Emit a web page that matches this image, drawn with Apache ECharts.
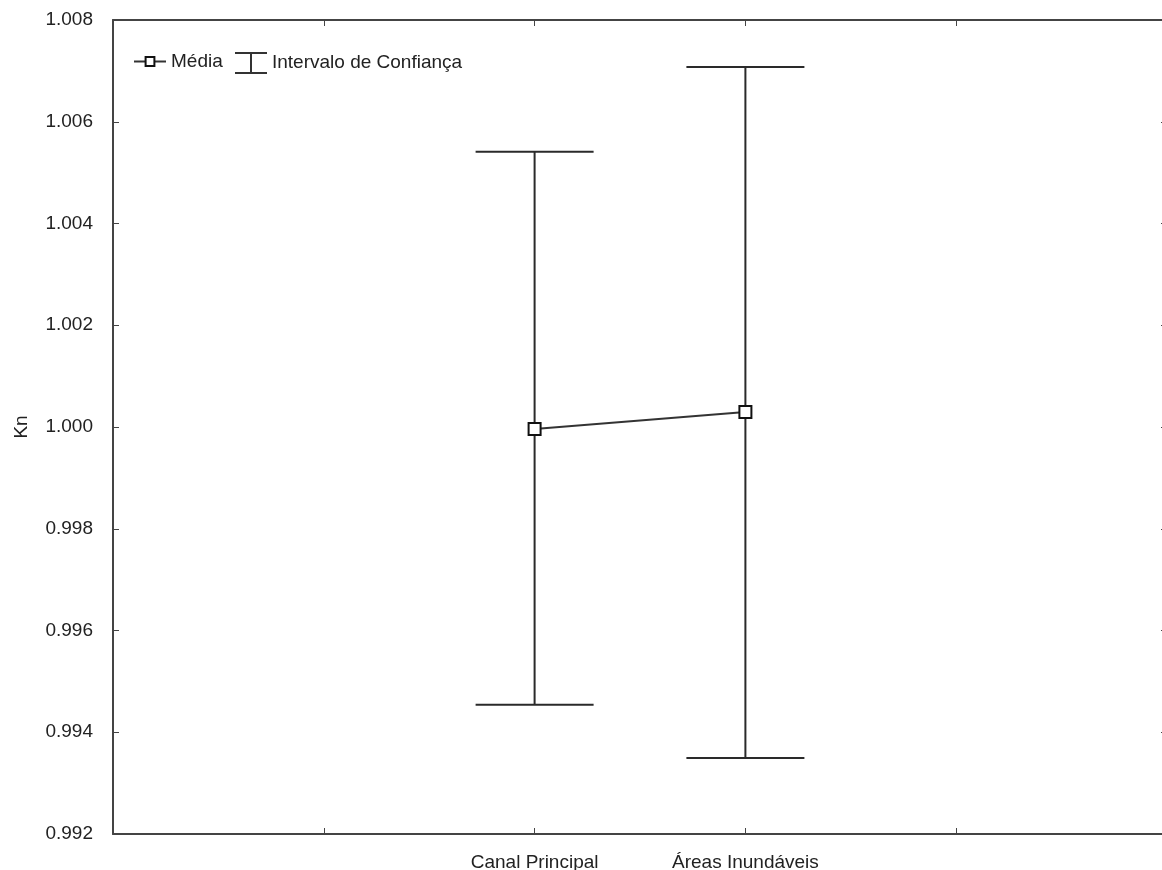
<!DOCTYPE html>
<html>
<head>
<meta charset="utf-8">
<script src="https://cdn.jsdelivr.net/npm/echarts@6/dist/echarts.min.js"></script>
<style>html,body{margin:0;padding:0;background:#fff}#c{width:1162px;height:870px}</style>
</head>
<body>
<div id="c"></div>
<script>
const categories = ['', '', 'Canal Principal', 'Áreas Inundáveis', '', ''];
const meanValues = ['-', '-', 0.99996, 1.000295, '-', '-'];
const lowerValues = [null, null, 0.99454, 0.993494, null, null];
const upperValues = [null, null, 1.00541, 1.007076, null, null];
const yTicks = { min: 0.992, max: 1.008, interval: 0.002 };

const ciData = [];
categories.forEach((c, i) => {
  if (lowerValues[i] != null) ciData.push([i, lowerValues[i], upperValues[i]]);
});

const FONT = 'Liberation Sans';
const FS = 19;
const TXT = '#222';
const AX = '#444';

const chart = echarts.init(document.getElementById('c'), null, { renderer: 'canvas' });
chart.setOption({
  animation: false,
  backgroundColor: '#fff',
  grid: { left: 113, right: -5, top: 20, bottom: 36, containLabel: false, outerBoundsMode: 'none' },
  legend: [{
    left: 128, top: 47, itemGap: 10, itemWidth: 32, itemHeight: 11,
    textStyle: { fontFamily: FONT, fontSize: FS, color: TXT },
    data: [{ name: 'Média' }]
  }, {
    left: 230, top: 47, itemGap: 10, itemWidth: 32, itemHeight: 22,
    textStyle: { fontFamily: FONT, fontSize: FS, color: TXT },
    data: [
      { name: 'Intervalo de Confiança', icon: 'path://M0,0H32V2H17V20H32V22H0V20H15V2H0Z', itemStyle: { color: '#333' } }
    ]
  }],
  xAxis: [{
    type: 'category', data: categories, boundaryGap: false, position: 'bottom',
    axisLine: { lineStyle: { color: AX, width: 2 } },
    axisTick: { inside: true, length: 6, lineStyle: { color: AX, width: 1 } },
    axisLabel: { margin: 19, fontFamily: FONT, fontSize: FS, color: TXT, interval: 0 },
    splitLine: { show: false }
  }, {
    type: 'category', data: categories, boundaryGap: false, position: 'top',
    axisLine: { lineStyle: { color: AX, width: 2 } },
    axisTick: { inside: true, length: 6, lineStyle: { color: AX, width: 1 } },
    axisLabel: { show: false }, splitLine: { show: false }
  }],
  yAxis: [{
    type: 'value', min: yTicks.min, max: yTicks.max, interval: yTicks.interval, position: 'left',
    name: 'Kn', nameLocation: 'middle', nameGap: 82, nameRotate: 90,
    nameTextStyle: { fontFamily: FONT, fontSize: FS, color: TXT },
    axisLine: { show: true, lineStyle: { color: AX, width: 2 } },
    axisTick: { show: true, inside: true, length: 6, lineStyle: { color: AX, width: 1 } },
    axisLabel: { margin: 20, fontFamily: FONT, fontSize: FS, color: TXT, formatter: v => v.toFixed(3) },
    splitLine: { show: false }
  }, {
    type: 'value', min: yTicks.min, max: yTicks.max, interval: yTicks.interval, position: 'right',
    axisLine: { show: false },
    axisTick: { show: true, inside: true, length: 6, lineStyle: { color: AX, width: 1 } },
    axisLabel: { show: false }, splitLine: { show: false }
  }],
  series: [{
    name: 'Intervalo de Confiança',
    type: 'custom',
    data: ciData,
    itemStyle: { color: '#333' },
    renderItem: function (params, api) {
      const x = api.value(0);
      const lo = api.coord([x, api.value(1)]);
      const hi = api.coord([x, api.value(2)]);
      const hw = 59;
      const st = { stroke: '#2a2a2a', lineWidth: 2, fill: null };
      return {
        type: 'group',
        children: [
          { type: 'line', shape: { x1: lo[0], y1: lo[1], x2: hi[0], y2: hi[1] }, style: st },
          { type: 'line', shape: { x1: hi[0] - hw, y1: hi[1], x2: hi[0] + hw, y2: hi[1] }, style: st },
          { type: 'line', shape: { x1: lo[0] - hw, y1: lo[1], x2: lo[0] + hw, y2: lo[1] }, style: st }
        ]
      };
    },
    z: 2
  }, {
    name: 'Média',
    type: 'line',
    data: meanValues,
    connectNulls: false,
    symbol: 'rect',
    symbolSize: 12,
    showAllSymbol: true,
    lineStyle: { color: '#333', width: 2 },
    itemStyle: { color: '#fff', borderColor: '#111', borderWidth: 2 },
    z: 5
  }]
});
</script>
</body>
</html>
